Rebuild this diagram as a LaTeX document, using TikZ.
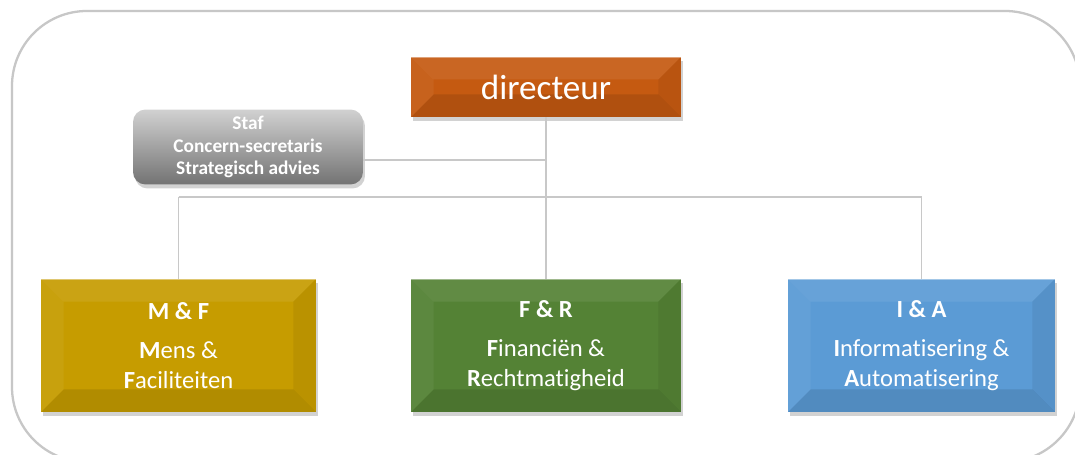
\documentclass[tikz,border=0pt]{standalone}
\usepackage{fontspec}
\setmainfont{Carlito}[Ligatures=NoCommon]
\usetikzlibrary{shadows}

\definecolor{dirorange}{HTML}{C55A11}
\definecolor{mfgold}{HTML}{C69C00}
\definecolor{frgreen}{HTML}{548235}
\definecolor{iablue}{HTML}{5B9BD5}
\definecolor{linegray}{HTML}{C8C8C8}

\tikzset{
  bevel/.style={path picture={
      \fill[white,opacity=.08] (path picture bounding box.north west) -- (path picture bounding box.north east)
        -- ([xshift=-.45cm,yshift=-.45cm]path picture bounding box.north east) -- ([xshift=.45cm,yshift=-.45cm]path picture bounding box.north west) -- cycle;
      \fill[white,opacity=.05] (path picture bounding box.north west) -- (path picture bounding box.south west)
        -- ([xshift=.45cm,yshift=.45cm]path picture bounding box.south west) -- ([xshift=.45cm,yshift=-.45cm]path picture bounding box.north west) -- cycle;
      \fill[black,opacity=.06] (path picture bounding box.north east) -- (path picture bounding box.south east)
        -- ([xshift=-.45cm,yshift=.45cm]path picture bounding box.south east) -- ([xshift=-.45cm,yshift=-.45cm]path picture bounding box.north east) -- cycle;
      \fill[black,opacity=.10] (path picture bounding box.south west) -- (path picture bounding box.south east)
        -- ([xshift=-.45cm,yshift=.45cm]path picture bounding box.south east) -- ([xshift=.45cm,yshift=.45cm]path picture bounding box.south west) -- cycle;
      \draw[white,opacity=.4,line width=1.5pt] (path picture bounding box.north west) -- (path picture bounding box.north east);
  }},
  unit/.style={minimum width=5.4cm, minimum height=2.66cm, inner sep=0pt, text=white, align=center,
    font=\fontsize{14}{17}\selectfont, drop shadow={opacity=.35, shadow xshift=.04cm, shadow yshift=-.08cm}, bevel},
  link/.style={draw=linegray, line width=.7pt}
}

\begin{document}
\begin{tikzpicture}[x=0.02cm, y=-0.02cm]
  \useasboundingbox (0,0) rectangle (1075,455);
  \clip (0,0) rectangle (1075,455);
  \fill[white] (0,0) rectangle (1075,455);

  % outer frame
  \draw[black!22, line width=1.3pt, rounded corners=1.5cm] (12,11) rectangle (1080,462);

  % boxes
  \node[unit, fill=dirorange, minimum height=1.2cm, font=\fontsize{20}{24}\selectfont] (dir) at (546,87) {directeur};
  \node[rounded corners=.25cm, top color=black!18, bottom color=black!55, minimum width=4.6cm, minimum height=1.5cm,
        inner sep=0pt, text=white, align=center, font=\bfseries\fontsize{11}{13}\selectfont,
        drop shadow={opacity=.35, shadow xshift=.04cm, shadow yshift=-.08cm}] (staf) at (248,147)
        {Staf\\Concern-secretaris\\Strategisch advies};

  \node[unit, fill=mfgold, minimum width=5.5cm] (mf) at (178.5,345.5)
        {\textbf{M \& F}\\[5pt]\textbf{M}ens \&\\\textbf{F}aciliteiten};
  \node[unit, fill=frgreen] (fr) at (546,345.5)
        {\textbf{F \& R}\\[5pt]\textbf{F}inanciën \&\\\textbf{R}echtmatigheid};
  \node[unit, fill=iablue, minimum width=5.34cm] (ia) at (921.5,345.5)
        {\textbf{I \& A}\\[5pt]\textbf{I}nformatisering \&\\\textbf{A}utomatisering};

  % connectors
  \coordinate (sj) at (546,160);
  \coordinate (bus) at (546,197);
  \draw[link] (dir.south) -- (fr.north);
  \draw[link] (staf.east |- sj) -- (sj);
  \draw[link] (mf.north |- bus) -- (ia.north |- bus);
  \draw[link] (mf.north |- bus) -- (mf.north);
  \draw[link] (ia.north |- bus) -- (ia.north);
\end{tikzpicture}
\end{document}
